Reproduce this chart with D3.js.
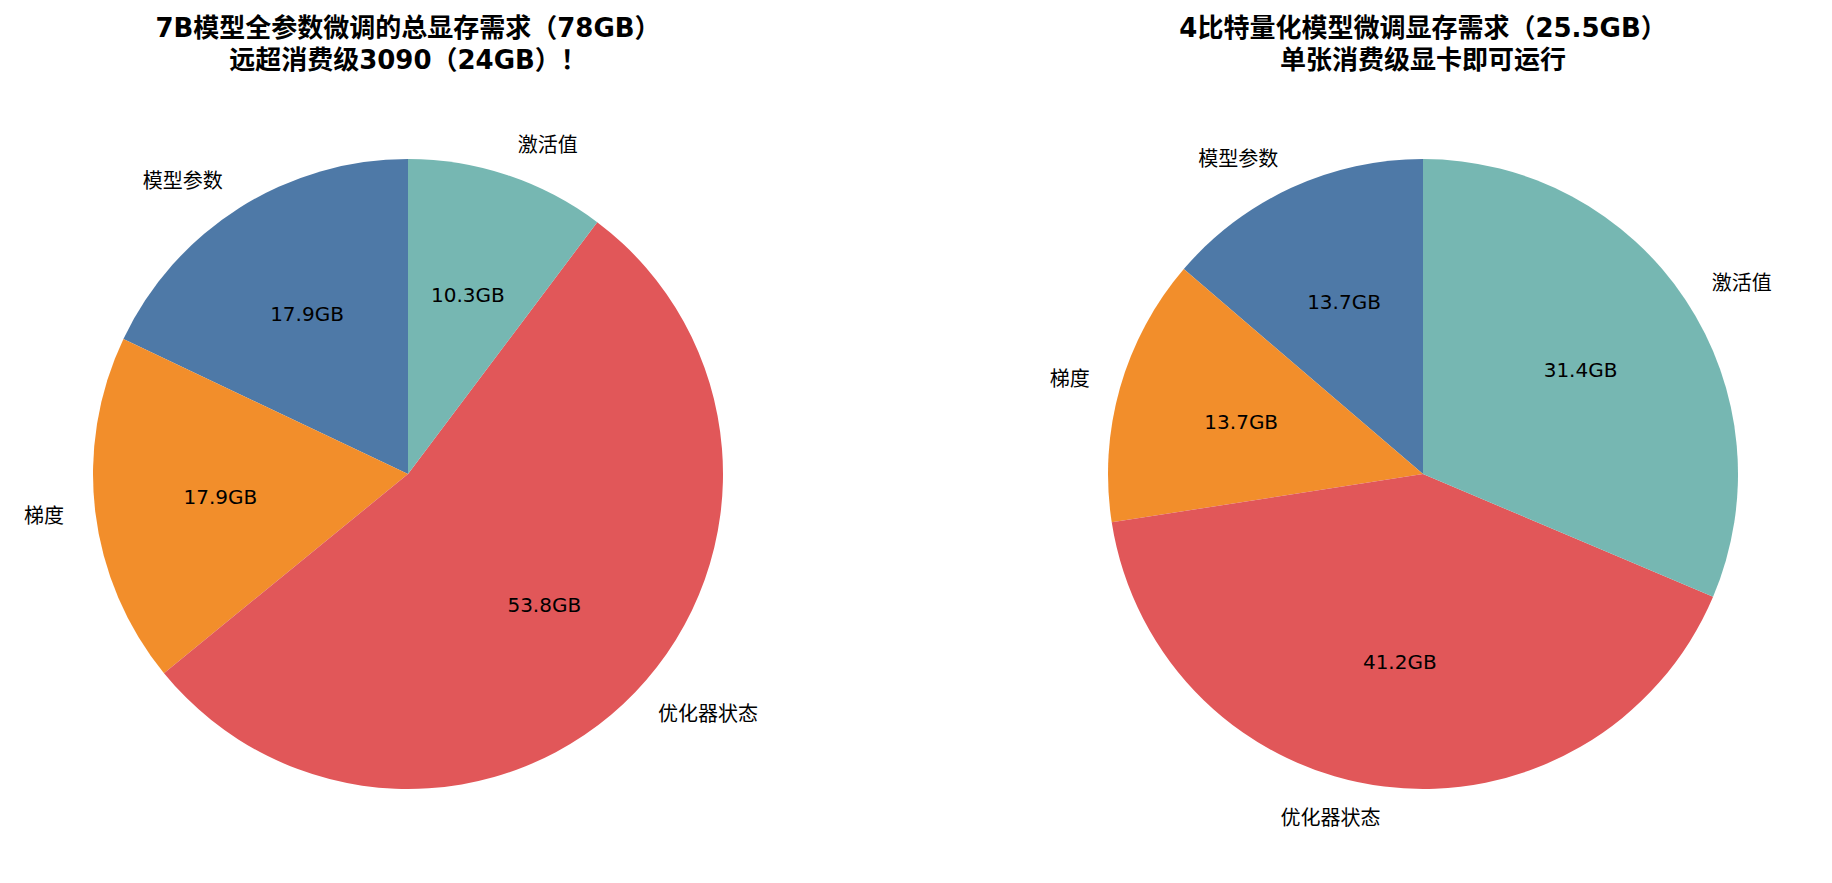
<!DOCTYPE html>
<html>
<head>
<meta charset="utf-8">
<script src="https://cdn.jsdelivr.net/npm/d3@7"></script>
<style>
    body { margin: 0; background: #fff; }
    svg text { font-family: "DejaVu Sans", "Noto Sans CJK SC", sans-serif; }
</style>
</head>
<body>
<div id="chart"></div>
<script>
// memory parts (GB), order = matplotlib counterclockwise from 12 o'clock
const parts = ["模型参数", "梯度", "优化器状态", "激活值"];
const colors = ["#4e79a7", "#f28e2b", "#e15759", "#76b7b2"];
const fullValues = [14, 14, 42, 8];
const qloraValues = [3.5, 3.5, 10.5, 8];
const fullTitle = ["7B模型全参数微调的总显存需求（78GB）", "远超消费级3090（24GB）！"];
const qloraTitle = ["4比特量化模型微调显存需求（25.5GB）", "单张消费级显卡即可运行"];

const W = 1832, H = 883;
const svg = d3.select("#chart")
    .append("svg")
    .attr("width", W)
    .attr("height", H);

const radius = 315;

function drawPie(cx, cy, values, title) {
    const g = svg.append("g").attr("transform", `translate(${cx}, ${cy})`);
    const total = d3.sum(values);
    const data = parts.map((p, i) => ({ part: p, value: values[i], color: colors[i] }));

    const pie = d3.pie()
        .sort(null)
        .value(d => d.value)
        .startAngle(0)
        .endAngle(-2 * Math.PI);

    const arc = d3.arc().innerRadius(0).outerRadius(radius);
    const arcs = pie(data);

    g.selectAll(".slice")
        .data(arcs)
        .enter()
        .append("path")
        .attr("class", "slice")
        .attr("d", arc)
        .style("fill", d => d.data.color);

    const mid = d => (d.startAngle + d.endAngle) / 2;

    // category labels at 1.1 r
    g.selectAll(".label")
        .data(arcs)
        .enter()
        .append("text")
        .attr("class", "label")
        .attr("x", d => 1.1 * radius * Math.sin(mid(d)))
        .attr("y", d => -1.1 * radius * Math.cos(mid(d)))
        .attr("dy", "0.35em")
        .style("text-anchor", d => Math.sin(mid(d)) >= 0 ? "start" : "end")
        .style("font-size", "20px")
        .text(d => d.data.part);

    // percent labels at 0.6 r (shown with "GB" like the original)
    g.selectAll(".pct")
        .data(arcs)
        .enter()
        .append("text")
        .attr("class", "pct")
        .attr("x", d => 0.6 * radius * Math.sin(mid(d)))
        .attr("y", d => -0.6 * radius * Math.cos(mid(d)))
        .attr("dy", "0.35em")
        .style("text-anchor", "middle")
        .style("font-size", "20px")
        .text(d => (d.value / total * 100).toFixed(1) + "GB");

    svg.append("text")
        .attr("x", cx)
        .attr("y", 28)
        .attr("dy", "0.35em")
        .style("text-anchor", "middle")
        .style("font-size", "26px")
        .style("font-weight", "bold")
        .text(title[0]);

    svg.append("text")
        .attr("x", cx)
        .attr("y", 60)
        .attr("dy", "0.35em")
        .style("text-anchor", "middle")
        .style("font-size", "26px")
        .style("font-weight", "bold")
        .text(title[1]);
}

drawPie(408, 474, fullValues, fullTitle);
drawPie(1423, 474, qloraValues, qloraTitle);
</script>
</body>
</html>
